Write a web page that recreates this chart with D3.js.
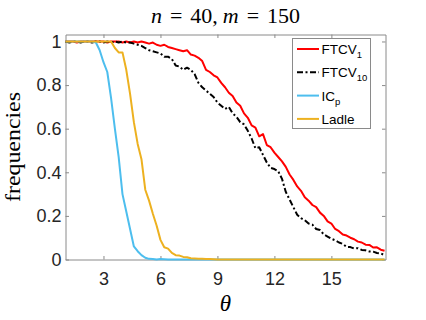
<!DOCTYPE html>
<title>n = 40, m = 150</title>
<style type="text/css">
	body { margin: 0; background: #fff; }
	svg { display: block; }
	.tick text { font-family: "Liberation Sans", Arial, sans-serif; font-size: 18px; fill: #262626; }
	.axis path, .axis line { stroke: #8a8a8a; }
	.curve { fill: none; stroke-width: 2px; stroke-linejoin: round; }
	.legend text { font-family: "Liberation Sans", Arial, sans-serif; font-size: 13.5px; fill: #000; }
</style>
<body>
<script src="https://cdnjs.cloudflare.com/ajax/libs/d3/7.8.5/d3.min.js"></script>
<script type="text/javascript">
	// theta grid (step 0.2)
	const theta = [1.0, 1.2, 1.4, 1.6, 1.8, 2.0, 2.2, 2.4, 2.6, 2.8, 3.0, 3.2, 3.4, 3.6, 3.8, 4.0, 4.2, 4.4, 4.6, 4.8,
		5.0, 5.2, 5.4, 5.6, 5.8, 6.0, 6.2, 6.4, 6.6, 6.8, 7.0, 7.2, 7.4, 7.6, 7.8, 8.0, 8.2, 8.4, 8.6, 8.8,
		9.0, 9.2, 9.4, 9.6, 9.8, 10.0, 10.2, 10.4, 10.6, 10.8, 11.0, 11.2, 11.4, 11.6, 11.8, 12.0, 12.2, 12.4, 12.6, 12.8,
		13.0, 13.2, 13.4, 13.6, 13.8, 14.0, 14.2, 14.4, 14.6, 14.8, 15.0, 15.2, 15.4, 15.6, 15.8, 16.0, 16.2, 16.4, 16.6, 16.8,
		17.0, 17.2, 17.4, 17.6, 17.8];

	const ftcv1 = [1, 1, 1, 0.995, 1, 1, 1, 1, 1, 1,
		1, 0.995, 1, 1, 1, 0.995, 1, 0.995, 1, 0.995,
		1, 0.995, 0.99, 0.995, 0.985, 0.98, 0.985, 0.975, 0.97, 0.965,
		0.96, 0.955, 0.96, 0.94, 0.935, 0.925, 0.91, 0.87, 0.86, 0.845,
		0.835, 0.81, 0.79, 0.765, 0.75, 0.72, 0.705, 0.67, 0.65, 0.615,
		0.605, 0.565, 0.575, 0.525, 0.515, 0.49, 0.47, 0.45, 0.425, 0.39,
		0.365, 0.335, 0.315, 0.285, 0.27, 0.25, 0.24, 0.215, 0.2, 0.175,
		0.165, 0.14, 0.13, 0.115, 0.11, 0.10, 0.093, 0.082, 0.078, 0.068,
		0.067, 0.055, 0.056, 0.045, 0.04];

	const ftcv10 = [1, 0.995, 1, 1, 0.995, 1, 1, 0.995, 1, 1,
		0.995, 1, 0.995, 1, 0.995, 1, 0.995, 0.995, 0.99, 0.985,
		0.98, 0.97, 0.96, 0.955, 0.95, 0.945, 0.93, 0.93, 0.92, 0.89,
		0.885, 0.87, 0.88, 0.87, 0.85, 0.81, 0.79, 0.775, 0.76, 0.745,
		0.72, 0.705, 0.69, 0.70, 0.67, 0.655, 0.63, 0.62, 0.59, 0.555,
		0.51, 0.515, 0.48, 0.445, 0.42, 0.415, 0.405, 0.37, 0.31, 0.275,
		0.24, 0.205, 0.19, 0.18, 0.165, 0.16, 0.14, 0.135, 0.115, 0.105,
		0.095, 0.088, 0.078, 0.072, 0.058, 0.057, 0.05, 0.052, 0.044, 0.042,
		0.037, 0.036, 0.03, 0.028, 0.02];

	const icp = [1, 1, 1, 1, 1, 1, 1, 1, 0.995, 0.96,
		0.905, 0.86, 0.74, 0.60, 0.47, 0.30, 0.22, 0.14, 0.06, 0.038,
		0.02, 0.008, 0.003, 0.002, 0, 0.002, 0.001, 0, 0, 0,
		0, 0, 0, 0, 0, 0, 0, 0, 0, 0,
		0, 0, 0, 0, 0, 0, 0, 0, 0, 0,
		0, 0, 0, 0, 0, 0, 0, 0, 0, 0,
		0, 0, 0, 0, 0, 0, 0, 0, 0, 0,
		0, 0, 0, 0, 0, 0, 0, 0, 0, 0,
		0, 0, 0, 0, 0];

	const ladle = [1, 1, 1, 1, 1, 1, 1, 1, 1, 1,
		1, 1, 1, 0.97, 0.95, 0.95, 0.87, 0.76, 0.63, 0.53,
		0.46, 0.32, 0.27, 0.21, 0.155, 0.09, 0.056, 0.05, 0.03, 0.02,
		0.018, 0.012, 0.01, 0.006, 0.005, 0.004, 0.003, 0.002, 0.002, 0.001,
		0, 0, 0, 0, 0, 0, 0, 0, 0, 0,
		0, 0, 0, 0, 0, 0, 0, 0, 0, 0,
		0, 0, 0, 0, 0, 0, 0, 0, 0, 0,
		0, 0, 0, 0, 0, 0, 0, 0, 0, 0,
		0, 0, 0, 0, 0];

	const xTicks = [3, 6, 9, 12, 15];
	const yTicks = [0, 0.2, 0.4, 0.6, 0.8, 1];
	const yTickLabels = ['0', '0.2', '0.4', '0.6', '0.8', '1'];

	const seriesNames = ['FTCV', 'FTCV', 'IC', 'Ladle'];
	const seriesSubs = ['1', '10', 'p', ''];
	const seriesColors = ['#ff0000', '#000000', '#4dbeee', '#edb120'];
	const seriesDash = [null, '6,2.5,2,2.5', null, null];
	const seriesValues = [ftcv1, ftcv10, icp, ladle];

	const width = 426, height = 320;
	const box = { left: 65.5, right: 385.5, top: 34.5, bottom: 259.5 };

	const svg = d3.select('body').append('svg')
		.attr('width', width)
		.attr('height', height);

	const x = d3.scaleLinear().domain([1, 17.85]).range([box.left, box.right]);
	const y = d3.scaleLinear().domain([0, 1.032]).range([box.bottom, box.top]);

	// axes, ticks pointing inside like matlab
	svg.append('g').attr('class', 'axis')
		.attr('transform', `translate(0,${box.bottom})`)
		.call(d3.axisBottom(x).tickValues(xTicks).tickSizeInner(-3.5).tickSizeOuter(0).tickPadding(13).tickFormat(d3.format('d')));
	svg.append('g').attr('class', 'axis')
		.attr('transform', `translate(0,${box.top})`)
		.call(d3.axisTop(x).tickValues(xTicks).tickSizeInner(-3.5).tickSizeOuter(0).tickFormat(''));
	svg.append('g').attr('class', 'axis')
		.attr('transform', `translate(${box.left},0)`)
		.call(d3.axisLeft(y).tickValues(yTicks).tickSizeInner(-3.5).tickSizeOuter(0).tickPadding(4)
			.tickFormat((d, i) => yTickLabels[i]));
	svg.append('g').attr('class', 'axis')
		.attr('transform', `translate(${box.right},0)`)
		.call(d3.axisRight(y).tickValues(yTicks).tickSizeInner(-3.5).tickSizeOuter(0).tickFormat(''));

	// curves
	const line = d3.line().x((d, i) => x(theta[i])).y(d => y(d));
	seriesValues.forEach((vals, k) => {
		svg.append('path')
			.attr('class', 'curve')
			.attr('stroke', seriesColors[k])
			.attr('stroke-dasharray', seriesDash[k])
			.attr('d', line(vals));
	});

	// title, extra room around the = signs like tex
	const title = svg.append('text')
		.attr('x', (box.left + box.right) / 2)
		.attr('y', 23)
		.attr('text-anchor', 'middle')
		.attr('font-family', '"Liberation Serif", "DejaVu Serif", serif')
		.attr('font-size', 22);
	title.append('tspan').attr('font-style', 'italic').text('n');
	title.append('tspan').attr('dx', 8).text('=');
	title.append('tspan').attr('dx', 8).text('40,');
	title.append('tspan').attr('dx', 5).attr('font-style', 'italic').text('m');
	title.append('tspan').attr('dx', 8).text('=');
	title.append('tspan').attr('dx', 8).text('150');

	// axis labels
	svg.append('text')
		.attr('x', (box.left + box.right) / 2)
		.attr('y', 311)
		.attr('text-anchor', 'middle')
		.attr('font-family', '"Liberation Serif", "DejaVu Serif", serif')
		.attr('font-style', 'italic')
		.attr('font-size', 23)
		.text('θ');

	svg.append('text')
		.attr('transform', `translate(20,${(box.top + box.bottom) / 2}) rotate(-90)`)
		.attr('text-anchor', 'middle')
		.attr('font-family', '"Liberation Serif", "DejaVu Serif", serif')
		.attr('font-size', 22)
		.attr('textLength', 110)
		.attr('lengthAdjust', 'spacingAndGlyphs')
		.text('frequencies');

	// legend
	const legend = svg.append('g').attr('class', 'legend');
	legend.append('rect')
		.attr('x', 292.5).attr('y', 38.5)
		.attr('width', 78).attr('height', 90)
		.attr('fill', '#fff')
		.attr('stroke', '#8a8a8a');

	seriesNames.forEach((name, k) => {
		const by = 54 + k * 23.3;
		legend.append('line')
			.attr('x1', 297).attr('x2', 319)
			.attr('y1', by - 5).attr('y2', by - 5)
			.attr('stroke', seriesColors[k])
			.attr('stroke-width', 2)
			.attr('stroke-dasharray', seriesDash[k]);
		const t = legend.append('text').attr('x', 321.5).attr('y', by);
		t.append('tspan').text(name);
		if (seriesSubs[k]) {
			t.append('tspan').attr('dy', 4).attr('font-size', 9.5).text(seriesSubs[k]);
		}
	});
</script>
</body>
